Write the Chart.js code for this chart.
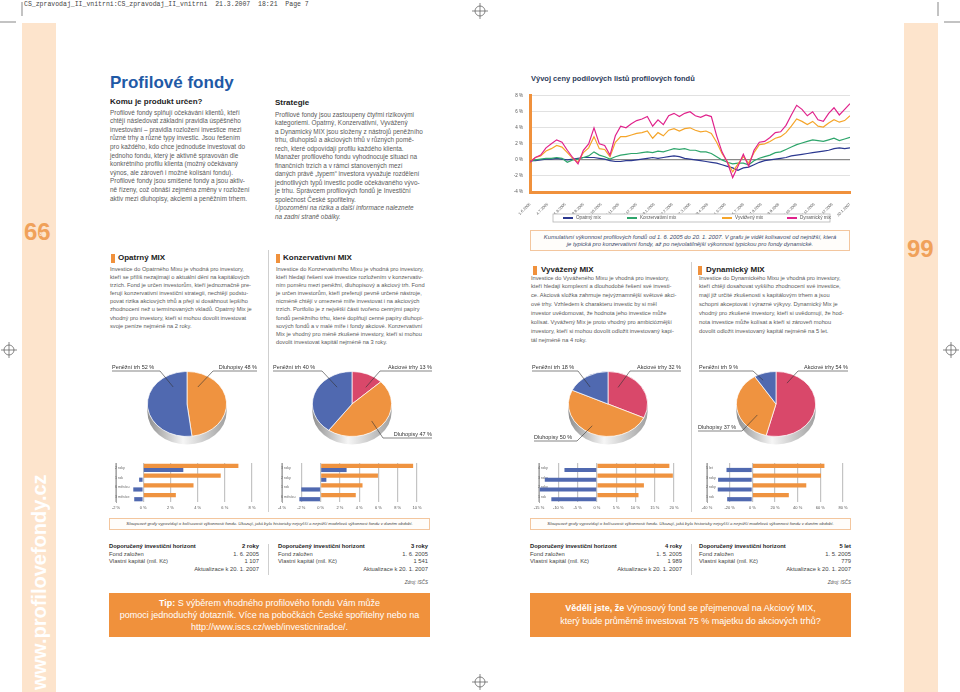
<!DOCTYPE html>
<html lang="cs">
<head>
<meta charset="utf-8">
<title>Profilové fondy</title>
<script src="https://cdn.jsdelivr.net/npm/chart.js@4.4.1/dist/chart.umd.min.js"></script>
<style>
  html, body { margin: 0; padding: 0; }
  body { width: 960px; height: 692px; position: relative; overflow: hidden; background: #fff;
         font-family: "Liberation Sans", Arial, sans-serif; color: #555; }
  .a { position: absolute; white-space: nowrap; }
  canvas.a { display: block; }
  .strip { position: absolute; background: #fde4cc; }
  .para { font-size: 6.4px; line-height: 8.6px; color: #5a5a5a; }
  .mix { font-size: 5.7px; line-height: 8.1px; color: #5a5a5a; }
  .mixr { line-height: 8.9px; }
  .head { font-size: 8px; font-weight: bold; color: #222; line-height: 10px; }
  .mark { position: absolute; width: 4px; height: 9px; background: #f0913c; }
  .vline { position: absolute; width: 1px; background: #cfcfcf; }
  .cap { position: absolute; box-sizing: border-box; border: 1px solid #f3c69e; background: #fffdfa;
         font-style: italic; text-align: center; white-space: nowrap; }
  .info { position: absolute; font-size: 5.8px; line-height: 7.5px; color: #444; }
  .info div { display: flex; justify-content: space-between; }
  .info b { color: #222; }
  .tip { position: absolute; box-sizing: border-box; background: #f0913c; color: #fff; text-align: center;
         font-size: 9px; white-space: nowrap; }
  .quote { position: absolute; font-size: 24px; line-height: 28px; font-weight: bold; color: #f0a15a; }
</style>
</head>
<body>

<!-- page strips and print marks -->
<div class="strip" style="left:22px;top:23px;width:34px;height:669px;"></div>
<div class="strip" style="left:904px;top:23px;width:34px;height:669px;"></div>
<svg class="a" style="left:0;top:0;" width="960" height="692">
  <g stroke="#555" stroke-width="0.7" fill="none">
    <line x1="0" y1="22" x2="16" y2="22"/><line x1="22" y1="2" x2="22" y2="16"/>
    <line x1="944" y1="22" x2="960" y2="22"/><line x1="938" y1="2" x2="938" y2="16"/>
    <circle cx="480" cy="11" r="5"/><line x1="472" y1="11" x2="488" y2="11"/><line x1="480" y1="3" x2="480" y2="19"/>
    <circle cx="480" cy="682" r="5"/><line x1="472" y1="682" x2="488" y2="682"/><line x1="480" y1="674" x2="480" y2="690"/>
    <circle cx="9" cy="350" r="5"/><line x1="1" y1="350" x2="17" y2="350"/><line x1="9" y1="342" x2="9" y2="358"/>
    <circle cx="951" cy="350" r="5"/><line x1="943" y1="350" x2="959" y2="350"/><line x1="951" y1="342" x2="951" y2="358"/>
  </g>
</svg>
<div class="a" style="left:24px;top:1px;font-family:'Liberation Mono',monospace;font-size:6.5px;color:#444;">CS_zpravodaj_II_vnitrni:CS_zpravodaj_II_vnitrni&nbsp;&nbsp;21.3.2007&nbsp;&nbsp;18:21&nbsp;&nbsp;Page 7</div>

<div class="quote" style="left:24px;top:218px;">66</div>
<div class="a" style="left:28px;top:232px;font-size:4.5px;color:#fff;letter-spacing:9px;">08</div>
<div class="quote" style="left:907px;top:235px;">99</div>
<div class="a" style="left:27px;top:690px;transform-origin:0 0;transform:rotate(-90deg);font-size:20px;line-height:24px;font-weight:bold;color:#fff;">www.profilovefondy.cz</div>

<!-- left intro -->
<div class="a" style="left:110px;top:74px;font-size:17px;line-height:18px;font-weight:bold;color:#1f5aa6;">Profilové fondy</div>
<div class="a head" style="left:110px;top:96.5px;">Komu je produkt určen?</div>
<div class="a para" style="left:110px;top:108.7px;">
Profilové fondy splňují očekávání klientů, kteří<br>
chtějí následovat základní pravidla úspěšného<br>
investování – pravidla rozložení investice mezi<br>
různé trhy a různé typy investic. Jsou řešením<br>
pro každého, kdo chce jednoduše investovat do<br>
jednoho fondu, který je aktivně spravován dle<br>
konkrétního profilu klienta (možný očekávaný<br>
výnos, ale zároveň i možné kolísání fondu).<br>
Profilové fondy jsou smíšené fondy a jsou aktiv-<br>
ně řízeny, což obnáší zejména změny v rozložení<br>
aktiv mezi dluhopisy, akciemi a peněžním trhem.</div>

<div class="a head" style="left:275px;top:98px;">Strategie</div>
<div class="a para" style="left:275px;top:110.7px;line-height:8.5px;">
Profilové fondy jsou zastoupeny čtyřmi rizikovými<br>
kategoriemi. Opatrný, Konzervativní, Vyvážený<br>
a Dynamický MIX jsou složeny z nástrojů peněžního<br>
trhu, dluhopisů a akciových trhů v různých pomě-<br>
rech, které odpovídají profilu každého klienta.<br>
Manažer profilového fondu vyhodnocuje situaci na<br>
finančních trzích a v rámci stanovených mezí<br>
daných právě „typem“ investora vyvažuje rozdělení<br>
jednotlivých typů investic podle očekávaného vývo-<br>
je trhu. Správcem profilových fondů je Investiční<br>
společnost České spořitelny.<br>
<i>Upozornění na rizika a další informace naleznete<br>
na zadní straně obálky.</i></div>

<!-- line chart -->
<div class="a" style="left:531px;top:74px;font-size:7.5px;line-height:9px;font-weight:bold;color:#2d3c5a;">Vývoj ceny podílových listů profilových fondů</div>
<canvas id="lineChart" class="a" style="left:505px;top:86px;" width="355" height="142"></canvas>
<div class="cap" style="left:530px;top:230px;width:320px;height:21px;font-size:5.8px;line-height:7.5px;padding-top:2.5px;color:#3b4a6b;">
Kumulativní výkonnost profilových fondů od 1. 6. 2005 do 20. 1. 2007. V grafu je vidět kolísavost od nejnižší, která<br>
je typická pro konzervativní fondy, až po nejvolatilnější výkonnost typickou pro fondy dynamické.</div>

<!-- dividers -->
<div class="vline" style="left:268px;top:250px;height:262px;"></div>
<div class="vline" style="left:268px;top:544px;height:31px;"></div>
<div class="vline" style="left:691px;top:262px;height:250px;"></div>
<div class="vline" style="left:691px;top:544px;height:31px;"></div>

<!-- MIX texts -->
<div class="mark" style="left:111px;top:253.5px;"></div>
<div class="a head" style="left:118px;top:253px;">Opatrný MIX</div>
<div class="a mix" style="left:110px;top:265px;">
Investice do Opatrného Mixu je vhodná pro investory,<br>
kteří se příliš nezajímají o aktuální dění na kapitálových<br>
trzích. Fond je určen investorům, kteří jednoznačně pre-<br>
ferují konzervativní investiční strategii, nechtějí podstu-<br>
povat rizika akciových trhů a přejí si dosáhnout lepšího<br>
zhodnocení než u termínovaných vkladů. Opatrný Mix je<br>
vhodný pro investory, kteří si mohou dovolit investovat<br>
svoje peníze nejméně na 2 roky.</div>

<div class="mark" style="left:276px;top:253.5px;"></div>
<div class="a head" style="left:283px;top:253px;">Konzervativní MIX</div>
<div class="a mix" style="left:276px;top:265px;">
Investice do Konzervativního Mixu je vhodná pro investory,<br>
kteří hledají řešení své investice rozložením v konzervativ-<br>
ním poměru mezi peněžní, dluhopisový a akciový trh. Fond<br>
je určen investorům, kteří preferují pevně určené nástroje,<br>
nicméně chtějí v omezené míře investovat i na akciových<br>
trzích. Portfolio je z největší části tvořeno cennými papíry<br>
fondů peněžního trhu, které doplňují cenné papíry dluhopi-<br>
sových fondů a v malé míře i fondy akciové. Konzervativní<br>
Mix je vhodný pro méně zkušené investory, kteří si mohou<br>
dovolit investovat kapitál nejméně na 3 roky.</div>

<div class="mark" style="left:533px;top:265.5px;"></div>
<div class="a head" style="left:541px;top:265px;">Vyvážený MIX</div>
<div class="a mix mixr" style="left:531px;top:273.5px;">
Investice do Vyváženého Mixu je vhodná pro investory,<br>
kteří hledají komplexní a dlouhodobé řešení své investi-<br>
ce. Akciová složka zahrnuje nejvýznamnější světové akci-<br>
ové trhy. Vzhledem k charakteru investic by si měl<br>
investor uvědomovat, že hodnota jeho investice může<br>
kolísat. Vyvážený Mix je proto vhodný pro ambicióznější<br>
investory, kteří si mohou dovolit odložit investovaný kapi-<br>
tál nejméně na 4 roky.</div>

<div class="mark" style="left:698px;top:265.5px;"></div>
<div class="a head" style="left:706px;top:265px;">Dynamický MIX</div>
<div class="a mix mixr" style="left:699px;top:273.5px;">
Investice do Dynamického Mixu je vhodná pro investory,<br>
kteří chtějí dosahovat vyššího zhodnocení své investice,<br>
mají již určité zkušenosti s kapitálovým trhem a jsou<br>
schopni akceptovat i výrazné výkyvy. Dynamický Mix je<br>
vhodný pro zkušené investory, kteří si uvědomují, že hod-<br>
nota investice může kolísat a kteří si zároveň mohou<br>
dovolit odložit investovaný kapitál nejméně na 5 let.</div>

<!-- pies -->
<canvas id="pie1" class="a" style="left:105px;top:355px;" width="160" height="97"></canvas>
<canvas id="pie2" class="a" style="left:268px;top:355px;" width="170" height="97"></canvas>
<canvas id="pie3" class="a" style="left:528px;top:355px;" width="160" height="97"></canvas>
<canvas id="pie4" class="a" style="left:694px;top:355px;" width="160" height="97"></canvas>

<!-- bars -->
<canvas id="bar1" class="a" style="left:104px;top:460px;" width="160" height="52"></canvas>
<canvas id="bar2" class="a" style="left:270px;top:460px;" width="160" height="52"></canvas>
<canvas id="bar3" class="a" style="left:527px;top:460px;" width="160" height="52"></canvas>
<canvas id="bar4" class="a" style="left:695px;top:460px;" width="160" height="52"></canvas>

<div class="cap" style="left:109px;top:518px;width:321px;height:12px;font-size:4.3px;line-height:10px;color:#444;">Sloupcové grafy vypovídají o kolísavosti výkonnosti fondu. Ukazují, jaká byla historicky nejvyšší a nejnižší modelová výkonnost fondu v daném období.</div>
<div class="cap" style="left:530px;top:518px;width:321px;height:12px;font-size:4.3px;line-height:10px;color:#444;">Sloupcové grafy vypovídají o kolísavosti výkonnosti fondu. Ukazují, jaká byla historicky nejvyšší a nejnižší modelová výkonnost fondu v daném období.</div>

<!-- info tables -->
<div class="info" style="left:109px;top:543px;width:150px;">
  <div><b>Doporučený investiční horizont</b><b>2 roky</b></div>
  <div><span>Fond založen</span><span>1. 6. 2005</span></div>
  <div><span>Vlastní kapitál (mil. Kč)</span><span>1 107</span></div>
  <div style="justify-content:flex-end;"><span>Aktualizace k 20. 1. 2007</span></div>
</div>
<div class="info" style="left:278px;top:543px;width:150px;">
  <div><b>Doporučený investiční horizont</b><b>3 roky</b></div>
  <div><span>Fond založen</span><span>1. 6. 2005</span></div>
  <div><span>Vlastní kapitál (mil. Kč)</span><span>1 541</span></div>
  <div style="justify-content:flex-end;"><span>Aktualizace k 20. 1. 2007</span></div>
</div>
<div class="info" style="left:530px;top:543px;width:152px;">
  <div><b>Doporučený investiční horizont</b><b>4 roky</b></div>
  <div><span>Fond založen</span><span>1. 5. 2005</span></div>
  <div><span>Vlastní kapitál (mil. Kč)</span><span>1 989</span></div>
  <div style="justify-content:flex-end;"><span>Aktualizace k 20. 1. 2007</span></div>
</div>
<div class="info" style="left:699px;top:543px;width:152px;">
  <div><b>Doporučený investiční horizont</b><b>5 let</b></div>
  <div><span>Fond založen</span><span>1. 5. 2005</span></div>
  <div><span>Vlastní kapitál (mil. Kč)</span><span>779</span></div>
  <div style="justify-content:flex-end;"><span>Aktualizace k 20. 1. 2007</span></div>
</div>
<div class="a" style="left:398px;top:580px;width:30px;text-align:right;font-size:4.5px;font-style:italic;color:#555;">Zdroj: ISČS</div>
<div class="a" style="left:821px;top:580px;width:30px;text-align:right;font-size:4.5px;font-style:italic;color:#555;">Zdroj: ISČS</div>

<!-- tips -->
<div class="tip" style="left:109px;top:593px;width:321px;height:44px;line-height:12px;padding-top:4px;">
<b>Tip:</b> S výběrem vhodného profilového fondu Vám může<br>
pomoci jednoduchý dotazník. Více na pobočkách České spořitelny nebo na<br>
http://www.iscs.cz/web/investicniradce/.</div>
<div class="tip" style="left:530px;top:593px;width:321px;height:44px;line-height:13px;padding-top:8.5px;">
<b>Věděli jste, že</b> Výnosový fond se přejmenoval na Akciový MIX,<br>
který bude průměrně investovat 75 % majetku do akciových trhů?</div>

<script>
// ---- line chart data (cumulative performance, %) ----
const tickLabels = ["1.6.2005", "4.7.2005", "6.8.2005", "9.9.2005", "12.10.2005", "14.11.2005",
  "17.12.2005", "19.1.2006", "22.2.2006", "27.3.2006", "29.4.2006", "1.6.2006", "5.7.2006",
  "7.8.2006", "9.9.2006", "12.10.2006", "14.11.2006", "18.12.2006", "20.1.2007"];
const seriesNames = ["Opatrný mix", "Konzervativní mix", "Vyvážený mix", "Dynamický mix"];

const opatrny = [-0.1, -0.1, 0.0, 0.1, 0.1, 0.2, 0.1, 0.0, 0.1, 0.2, 0.3, 0.3, 0.3, 0.2, 0.1, -0.1,
  -0.2, -0.2, -0.1, -0.1, 0.0, 0.1, 0.2, 0.3, 0.2, 0.3, 0.4, 0.5, 0.4, 0.2, 0.1, 0.0, -0.1, -0.2,
  -0.3, -0.4, -0.6, -0.8, -1.0, -1.3, -1.0, -0.9, -0.6, -0.3, -0.1, 0.0, 0.1, 0.2, 0.3, 0.5, 0.6,
  0.7, 0.8, 0.9, 1.0, 1.1, 1.2, 1.4, 1.5, 1.4, 1.5];
const konzervativni = [-0.2, 0.0, 0.1, 0.2, 0.2, 0.3, 0.2, -0.3, 0.0, 0.1, 0.3, 0.5, 1.0, 0.6, 0.4,
  0.1, 0.4, 0.6, 0.7, 0.8, 0.8, 0.9, 1.0, 0.9, 1.1, 1.0, 1.2, 1.4, 1.3, 1.4, 1.2, 1.2, 1.0, 1.0,
  0.8, 0.4, 0.0, -0.3, -0.5, -0.4, -0.4, -0.6, -0.1, 0.2, 0.4, 0.6, 0.9, 1.0, 1.3, 1.6, 1.9, 2.1,
  2.3, 2.5, 2.4, 2.3, 2.5, 2.7, 2.4, 2.6, 2.8];
const vyvazeny = [-0.2, 0.3, 0.5, 1.1, 1.4, 1.8, 1.6, 0.9, 0.2, -0.3, 0.9, 1.5, 2.9, 1.4, 1.3, 0.4,
  2.2, 2.9, 2.9, 3.1, 3.3, 3.4, 3.6, 2.7, 3.4, 3.0, 3.7, 3.9, 3.6, 3.9, 4.0, 3.7, 3.5, 3.6, 3.3,
  2.2, 0.8, -0.2, -1.5, -0.5, 0.4, -0.4, 0.9, 1.9, 2.0, 2.3, 2.7, 2.9, 3.4, 4.2, 5.1, 4.8, 4.4,
  4.8, 4.2, 4.1, 4.6, 5.0, 4.7, 4.9, 5.5];
const dynamicky = [-0.3, 0.3, 0.6, 1.5, 2.0, 2.5, 2.2, 1.2, 0.3, -0.5, 1.2, 2.0, 4.0, 2.0, 1.8, 0.6,
  3.0, 4.2, 4.0, 4.5, 4.9, 5.1, 5.4, 4.2, 5.0, 4.4, 5.5, 5.8, 5.4, 5.8, 6.0, 5.5, 5.3, 5.6, 5.4,
  3.0, 1.0, -0.3, -2.2, -0.8, 0.7, -0.8, 1.2, 2.2, 2.3, 2.8, 3.4, 3.5, 4.3, 5.6, 6.8, 6.3, 5.5,
  6.0, 5.0, 4.8, 5.8, 6.5, 5.6, 6.3, 7.0];

// ---- pie data (portfolio split, %) ----
const pieCats2 = ["Dluhopisy", "Peněžní trh"];
const pieCats3 = ["Akciové trhy", "Dluhopisy", "Peněžní trh"];
const pieOpatrny = [48, 52];
const pieKonzervativni = [13, 47, 40];
const pieVyvazeny = [32, 50, 18];
const pieDynamicky = [54, 37, 9];

// ---- bar data (best / worst model performance, %) ----
const barCats1 = ["2 roky", "1 rok", "6 měsíců", "3 měsíce"];
const barMax1 = [7.0, 5.7, 3.7, 2.4];
const barMin1 = [2.95, -0.3, -0.73, -0.66];
const barCats2 = ["3 roky", "2 roky", "1 rok", "6 měsíců"];
const barMax2 = [9.6, 5.95, 4.35, 3.65];
const barMin2 = [2.7, 0.6, -2.0, -2.2];
const barCats3 = ["4 roky", "3 roky", "2 roky", "1 rok"];
const barMax3 = [18.8, 19.7, 12.2, 10.8];
const barMin3 = [-8.4, -13.5, -14.8, -11.8];
const barCats4 = ["5 let", "3 roky", "2 roky", "1 rok"];
const barMax4 = [63.6, 60.6, 47.6, 32.2];
const barMin4 = [-22.8, -30.2, -30.5, -22.2];

const FONT = '"Liberation Sans", Arial, sans-serif';
const ORANGE = "#ef9340";
const BLUE = "#5069b0";
const RED = "#d9486a";
const sliceColors = { "Dluhopisy": ORANGE, "Peněžní trh": BLUE, "Akciové trhy": RED };
Chart.defaults.font.family = FONT;
Chart.defaults.animation = false;

// ---------- line chart ----------
const startDate = new Date(2005, 5, 1);
function dayOf(s) {
  const [d, m, y] = s.split(".").map(Number);
  return Math.round((new Date(y, m - 1, d) - startDate) / 864e5);
}
const tickDays = tickLabels.map(dayOf);
const lastDay = tickDays[tickDays.length - 1];
const sampleDays = opatrny.map((_, i) => i * lastDay / (opatrny.length - 1));
const toPts = arr => arr.map((v, i) => ({ x: sampleDays[i], y: v }));

const lineColors = ["#2c3990", "#2ea56b", "#f5a52a", "#e0238c"];
const lineLegend = {
  id: "lineLegend",
  afterDraw(chart, args, opts) {
    const { ctx, chartArea: a } = chart;
    const y0 = a.bottom + opts.top;
    ctx.save();
    ctx.fillStyle = "#fff";
    ctx.fillRect(a.left + opts.boxLeft, y0, a.right - a.left - opts.boxLeft - opts.boxRight, opts.height);
    ctx.strokeStyle = "#b5b5b5";
    ctx.lineWidth = 0.8;
    ctx.strokeRect(a.left + opts.boxLeft, y0, a.right - a.left - opts.boxLeft - opts.boxRight, opts.height);
    ctx.font = "4.6px " + FONT;
    ctx.textBaseline = "middle";
    chart.data.datasets.forEach((ds, i) => {
      const x = a.left + opts.offsets[i];
      const y = y0 + opts.height / 2;
      ctx.strokeStyle = ds.borderColor;
      ctx.lineWidth = 2;
      ctx.beginPath(); ctx.moveTo(x, y); ctx.lineTo(x + 10, y); ctx.stroke();
      ctx.fillStyle = "#555";
      ctx.fillText(ds.label, x + 13, y);
    });
    ctx.restore();
  }
};

new Chart(document.getElementById("lineChart"), {
  type: "line",
  data: {
    datasets: [opatrny, konzervativni, vyvazeny, dynamicky].map((arr, i) => ({
      label: seriesNames[i],
      data: toPts(arr),
      borderColor: lineColors[i],
      borderWidth: 1.2,
      pointRadius: 0,
      tension: 0,
      order: 4 - i
    }))
  },
  options: {
    responsive: false,
    layout: { padding: { left: 0, right: 10, top: 6, bottom: 0 } },
    plugins: {
      legend: { display: false },
      tooltip: { enabled: false },
      lineLegend: { top: 22, height: 8, boxLeft: 23, boxRight: 20, offsets: [33, 97, 192, 257] }
    },
    scales: {
      x: {
        type: "linear", min: 0, max: lastDay,
        afterBuildTicks: s => { s.ticks = tickDays.map(v => ({ value: v })); },
        afterFit: s => { s.height = 36; },
        ticks: { autoSkip: false, minRotation: 45, maxRotation: 45, padding: 2,
                 font: { size: 3.9 }, color: "#555",
                 callback: (v, i) => tickLabels[i] },
        grid: { display: false },
        border: { color: "#f0913c", width: 3 }
      },
      y: {
        min: -4, max: 8,
        afterFit: s => { s.width = 25; },
        ticks: { stepSize: 2, padding: 7, font: { size: 4.5 }, color: "#555", callback: v => v + " %" },
        grid: { drawTicks: false, color: c => c.tick.value === 0 ? "#8a8a8a" : "#d9d9d9",
                lineWidth: c => c.tick.value === 0 ? 1.3 : 0.8 },
        border: { color: "#f0913c", width: 3 }
      }
    }
  },
  plugins: [lineLegend]
});

// ---------- pies ----------
const pie3d = {
  id: "pie3d",
  beforeDatasetsDraw(chart, args, opts) {
    const arc = chart.getDatasetMeta(0).data[0];
    const { x, y, outerRadius: r } = arc;
    const k = opts.tilt, d = opts.depth;
    const ctx = chart.ctx;
    ctx.save();
    const g = ctx.createLinearGradient(x - r, 0, x + r, 0);
    g.addColorStop(0, "#8f8f8f");
    g.addColorStop(0.45, "#f6f6f6");
    g.addColorStop(1, "#a0a0a0");
    ctx.fillStyle = g;
    ctx.beginPath();
    ctx.ellipse(x, y + d, r, r * k, 0, 0, Math.PI);
    ctx.lineTo(x - r, y);
    ctx.ellipse(x, y, r, r * k, 0, Math.PI, 0, true);
    ctx.closePath();
    ctx.fill();
    ctx.restore();
    ctx.save();
    ctx.translate(x, y);
    ctx.scale(1, k);
    ctx.translate(-x, -y);
  },
  afterDatasetsDraw(chart) { chart.ctx.restore(); }
};

const pieLabels = {
  id: "pieLabels",
  afterDraw(chart, args, opts) {
    const { ctx } = chart;
    const meta = chart.getDatasetMeta(0);
    const k = chart.options.plugins.pie3d.tilt;
    const [ox, oy] = opts.origin;
    ctx.save();
    ctx.font = "5.5px " + FONT;
    ctx.fillStyle = "#333";
    ctx.strokeStyle = "#333";
    ctx.lineWidth = 0.6;
    ctx.textBaseline = "middle";
    ctx.textAlign = "left";
    opts.items.forEach(it => {
      const arc = meta.data[it.index];
      const ang = arc.startAngle + (arc.endAngle - arc.startAngle) * it.at;
      const ax = arc.x + Math.cos(ang) * arc.outerRadius * it.f;
      const ay = arc.y + Math.sin(ang) * arc.outerRadius * it.f * k;
      const text = chart.data.labels[it.index] + " " + chart.data.datasets[0].data[it.index] + " %";
      const w = ctx.measureText(text).width;
      const tx = it.tx - ox, ty = it.ty - oy;
      const left = it.align === "right" ? tx - w : tx;
      ctx.fillText(text, left, ty);
      const uy = ty + 4;
      ctx.beginPath();
      ctx.moveTo(ax, ay);
      ctx.lineTo(it.ex - ox, uy);
      ctx.lineTo(it.align === "right" ? left + w : left, uy);
      ctx.stroke();
    });
    ctx.restore();
  }
};

function pieChart(id, origin, size, center, cats, values, items) {
  const r = 40;
  const cx = center[0] - origin[0], cy = center[1] - origin[1];
  new Chart(document.getElementById(id), {
    type: "pie",
    data: {
      labels: cats,
      datasets: [{ data: values, backgroundColor: cats.map(c => sliceColors[c]),
                   borderColor: "#ffffff", borderWidth: 0.8 }]
    },
    options: {
      responsive: false,
      layout: { padding: { left: cx - r, right: size[0] - cx - r, top: cy - r, bottom: size[1] - cy - r } },
      plugins: {
        legend: { display: false },
        tooltip: { enabled: false },
        pie3d: { tilt: 0.82, depth: 8 },
        pieLabels: { origin, items }
      }
    },
    plugins: [pie3d, pieLabels]
  });
}

pieChart("pie1", [105, 355], [160, 97], [187, 404], pieCats2, pieOpatrny, [
  { index: 1, at: 0.82, f: 0.63, tx: 112, ty: 367, align: "left", ex: 160 },
  { index: 0, at: 0.16, f: 0.59, tx: 257, ty: 367, align: "right", ex: 213 }
]);
pieChart("pie2", [268, 355], [170, 97], [352, 404], pieCats3, pieKonzervativni, [
  { index: 2, at: 0.75, f: 0.64, tx: 273, ty: 367, align: "left", ex: 322 },
  { index: 0, at: 0.73, f: 0.62, tx: 432, ty: 367, align: "right", ex: 380 },
  { index: 1, at: 0.53, f: 0.72, tx: 432, ty: 434, align: "right", ex: 383 }
]);
pieChart("pie3", [528, 355], [160, 97], [608, 404], pieCats3, pieVyvazeny, [
  { index: 2, at: 0.37, f: 0.69, tx: 532, ty: 367, align: "left", ex: 578 },
  { index: 0, at: 0.23, f: 0.57, tx: 681, ty: 367, align: "right", ex: 630 },
  { index: 1, at: 0.53, f: 0.78, tx: 534, ty: 437, align: "left", ex: 577 }
]);
pieChart("pie4", [694, 355], [160, 97], [776, 404], pieCats3, pieDynamicky, [
  { index: 2, at: 0.26, f: 0.8, tx: 699, ty: 367, align: "left", ex: 753 },
  { index: 0, at: 0.12, f: 0.7, tx: 848, ty: 367, align: "right", ex: 798 },
  { index: 1, at: 0.3, f: 0.58, tx: 698, ty: 427, align: "left", ex: 742 }
]);

// ---------- bars ----------
function barChart(id, padL, padR, cats, hi, lo, min, max, step) {
  new Chart(document.getElementById(id), {
    type: "bar",
    data: {
      labels: cats,
      datasets: [
        { data: hi, backgroundColor: ORANGE },
        { data: lo, backgroundColor: BLUE }
      ]
    },
    options: {
      indexAxis: "y",
      responsive: false,
      layout: { padding: { left: padL, right: padR, top: 3, bottom: 0 } },
      datasets: { bar: { categoryPercentage: 0.86, barPercentage: 1 } },
      plugins: { legend: { display: false }, tooltip: { enabled: false } },
      scales: {
        x: {
          min, max,
          afterFit: s => { s.height = 10; },
          ticks: { stepSize: step, padding: 3, font: { size: 4 }, color: "#555", callback: v => v + " %" },
          grid: { color: "#c4c4c4", lineWidth: 1.2, drawTicks: false },
          border: { display: false }
        },
        y: {
          afterFit: s => { s.width = 0; },
          ticks: { mirror: true, padding: -1, font: { size: 3.6 }, color: "#666" },
          grid: { display: false },
          border: { color: "#a8a8a8", width: 1 }
        }
      }
    }
  });
}

barChart("bar1", 12, 12, barCats1, barMax1, barMin1, -2, 8, 2);
barChart("bar2", 12, 13, barCats2, barMax2, barMin2, -4, 10, 2);
barChart("bar3", 12, 13, barCats3, barMax3, barMin3, -15, 20, 5);
barChart("bar4", 12, 12, barCats4, barMax4, barMin4, -40, 80, 20);
</script>
</body>
</html>
